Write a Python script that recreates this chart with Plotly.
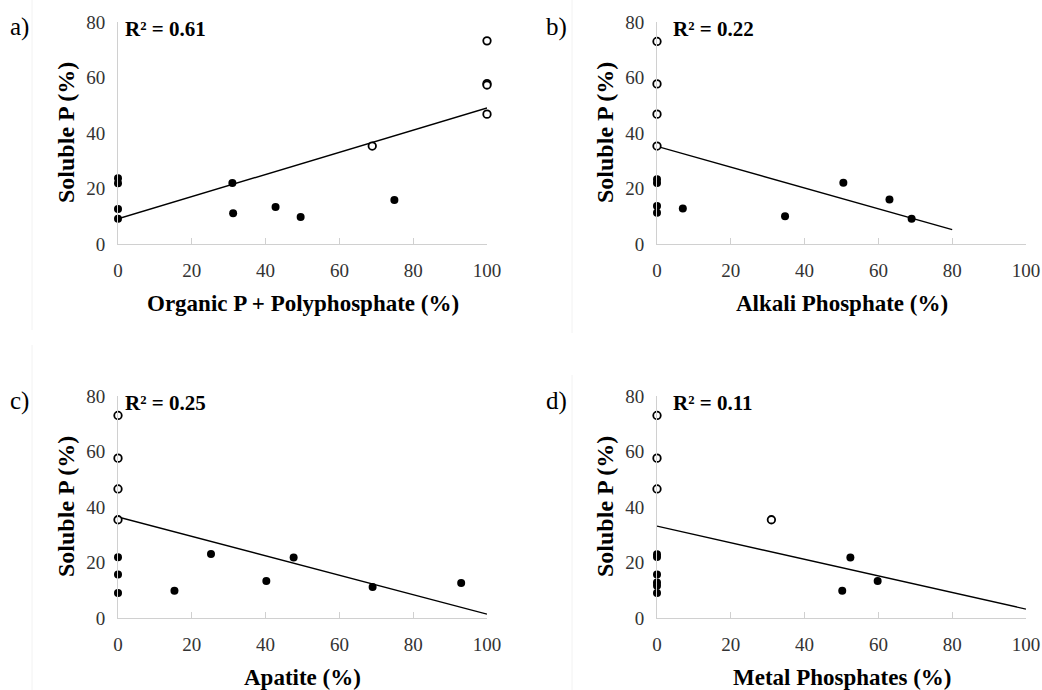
import plotly.graph_objects as go

W, H = 1042, 690

# ---------------- data ----------------
y_label = "Soluble P (%)"

# Panel a: Organic P + Polyphosphate
a_fill_x = [0, 0, 0, 0, 31.0, 31.2, 42.7, 49.5, 74.9]
a_fill_y = [23.7, 21.9, 12.6, 9.1, 22.0, 11.1, 13.3, 9.7, 15.9]
a_open_x = [68.9, 100, 100, 100, 100]
a_open_y = [35.3, 73.2, 57.8, 57.3, 46.8]
a_trend_x = [0, 100]
a_trend_y = [9.1, 49.0]

# Panel b: Alkali Phosphate
b_fill_x = [0, 0, 0, 0, 7.0, 34.7, 50.5, 63.0, 69.0]
b_fill_y = [23.3, 22.0, 13.7, 11.3, 12.8, 10.0, 22.1, 16.0, 9.1]
b_open_x = [0, 0, 0, 0]
b_open_y = [73.0, 57.7, 46.8, 35.3]
b_trend_x = [0, 80]
b_trend_y = [35.2, 5.2]

# Panel c: Apatite
c_fill_x = [0, 0, 0, 15.3, 25.2, 40.2, 47.6, 69.0, 93.0]
c_fill_y = [21.9, 15.7, 9.0, 9.8, 23.1, 13.3, 21.8, 11.2, 12.6]
c_open_x = [0, 0, 0, 0]
c_open_y = [73.0, 57.6, 46.5, 35.4]
c_trend_x = [0, 100]
c_trend_y = [36.4, 1.4]

# Panel d: Metal Phosphates
d_fill_x = [0, 0, 0, 0, 0, 0, 50.2, 52.4, 59.8]
d_fill_y = [23.0, 22.0, 15.7, 12.8, 11.6, 9.0, 9.8, 21.8, 13.3]
d_open_x = [0, 0, 0, 31.0]
d_open_y = [73.0, 57.6, 46.5, 35.4]
d_trend_x = [0, 100]
d_trend_y = [33.1, 3.2]

x_titles = ["Organic P + Polyphosphate (%)", "Alkali Phosphate (%)",
            "Apatite (%)", "Metal Phosphates (%)"]
r2_texts = ["R² = 0.61", "R² = 0.22", "R² = 0.25", "R² = 0.11"]
panel_letters = ["a)", "b)", "c)", "d)"]
x_ticks = [0, 20, 40, 60, 80, 100]
y_ticks = [0, 20, 40, 60, 80]

panels = [
    (a_fill_x, a_fill_y, a_open_x, a_open_y, a_trend_x, a_trend_y),
    (b_fill_x, b_fill_y, b_open_x, b_open_y, b_trend_x, b_trend_y),
    (c_fill_x, c_fill_y, c_open_x, c_open_y, c_trend_x, c_trend_y),
    (d_fill_x, d_fill_y, d_open_x, d_open_y, d_trend_x, d_trend_y),
]

# pixel boxes of plotting areas: (left, right, top, bottom)
boxes = [(118, 487, 22, 244), (657, 1026, 22, 244),
         (118, 487, 396, 618), (657, 1026, 396, 618)]

def px(x):
    return x / W

def py(y):
    return 1 - y / H

SERIF = "Liberation Serif, Times New Roman, serif"

fig = go.Figure()
layout = dict(
    width=W, height=H, margin=dict(l=0, r=0, t=0, b=0, pad=0, autoexpand=False),
    paper_bgcolor="white", plot_bgcolor="white", showlegend=False,
    font=dict(family=SERIF, color="black"),
)
annotations = []
shapes = []

for i, (fx, fy, ox, oy, tx, ty) in enumerate(panels):
    n = "" if i == 0 else str(i + 1)
    xa, ya = "x" + n, "y" + n
    l, r, t, b = boxes[i]
    layout["xaxis" + n] = dict(
        domain=[px(l), px(r)], range=[0, 100], anchor=ya, automargin=False,
        tickvals=x_ticks, ticks="inside", ticklen=6, tickcolor="#d0d0d0",
        showline=True, linecolor="#d0d0d0", linewidth=1,
        showgrid=False, zeroline=False, ticklabelstandoff=9,
        tickfont=dict(family=SERIF, size=19, color="#333333"),
    )
    layout["yaxis" + n] = dict(
        domain=[py(b), py(t)], range=[0, 80], anchor=xa, automargin=False,
        tickvals=y_ticks, ticks="",
        showline=True, linecolor="#d0d0d0", linewidth=1,
        showgrid=False, zeroline=False, ticklabelstandoff=8,
        tickfont=dict(family=SERIF, size=19, color="#333333"),
    )
    fig.add_trace(go.Scatter(x=tx, y=ty, mode="lines", xaxis=xa, yaxis=ya,
                             line=dict(color="black", width=1.4),
                             cliponaxis=False, hoverinfo="skip"))
    fig.add_trace(go.Scatter(x=fx, y=fy, mode="markers", xaxis=xa, yaxis=ya,
                             marker=dict(symbol="circle", size=8, color="black",
                                         line=dict(width=0)),
                             cliponaxis=False))
    fig.add_trace(go.Scatter(x=ox, y=oy, mode="markers", xaxis=xa, yaxis=ya,
                             marker=dict(symbol="circle", size=7.5, color="white",
                                         line=dict(width=1.8, color="black")),
                             cliponaxis=False))
    cx = (l + r) / 2
    # x-axis title
    annotations.append(dict(x=px(cx), y=py(b + 59), xref="paper", yref="paper",
                            text="<b>" + x_titles[i] + "</b>", showarrow=False,
                            xanchor="center", yanchor="middle",
                            font=dict(family=SERIF, size=23, color="black")))
    # y-axis title
    annotations.append(dict(x=px(l - 52), y=py((t + b) / 2), xref="paper", yref="paper",
                            text="<b>" + y_label + "</b>", showarrow=False, textangle=-90,
                            xanchor="center", yanchor="middle",
                            font=dict(family=SERIF, size=24, color="black")))
    # R^2 text
    annotations.append(dict(x=px(l + 5 + (0 if i % 2 == 0 else 9)), y=py(t + 7),
                            xref="paper", yref="paper",
                            text="<b>" + r2_texts[i] + "</b>", showarrow=False,
                            xanchor="left", yanchor="middle",
                            font=dict(family=SERIF, size=21, color="black")))
    # panel letter
    annotations.append(dict(x=px(l - 110 if i % 2 == 0 else l - 113), y=py(t + 5),
                            xref="paper", yref="paper",
                            text=panel_letters[i], showarrow=False,
                            xanchor="left", yanchor="middle",
                            font=dict(family=SERIF, size=25, color="black")))

# faint frame edges of the original sub-charts
for (x0, y0, y1) in [(32, 0, 330), (32, 345, 690), (572, 0, 333), (572, 375, 690)]:
    shapes.append(dict(type="line", xref="paper", yref="paper",
                       x0=px(x0), x1=px(x0), y0=py(y0), y1=py(y1),
                       line=dict(color="#f2f2f2", width=1)))

layout["annotations"] = annotations
layout["shapes"] = shapes
fig.update_layout(**layout)
fig.write_html("out.html")
